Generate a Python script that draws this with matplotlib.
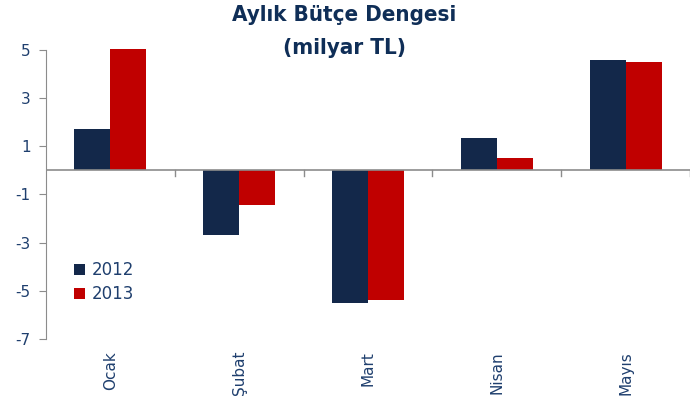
import matplotlib.pyplot as plt
import numpy as np

months = ["Ocak", "Şubat", "Mart", "Nisan", "Mayıs"]
vals_2012 = [1.7, -2.7, -5.5, 1.35, 4.6]
vals_2013 = [5.05, -1.45, -5.4, 0.5, 4.5]
yticks = [-7, -5, -3, -1, 1, 3, 5]

NAVY = "#13284a"
RED = "#c00000"
TEXT = "#1f3f6e"
AXIS = "#8c8c8c"

plt.rcParams["axes.unicode_minus"] = False

fig = plt.figure(figsize=(6.93, 4.03), dpi=100)
ax = fig.add_axes([0.066, 0.159, 0.930, 0.717])

x = np.arange(len(months))
w = 0.28
ax.bar(x - w / 2, vals_2012, w, color=NAVY, label="2012", clip_on=False)
ax.bar(x + w / 2, vals_2013, w, color=RED, label="2013", clip_on=False)

ax.set_xlim(-0.5, len(months) - 0.5)
ax.set_ylim(-7, 5)
ax.set_yticks(yticks)
ax.tick_params(axis="y", colors=AXIS, labelcolor=TEXT, labelsize=11,
               length=5, direction="out", pad=6)

# x axis drawn at zero with boundary ticks
for s in ["top", "right", "bottom"]:
    ax.spines[s].set_visible(False)
ax.spines["left"].set_color(AXIS)
ax.axhline(0, color=AXIS, lw=1.2, zorder=3)
for b in np.arange(0.5, len(months), 1.0):
    ax.plot([b, b], [0, -0.25], color=AXIS, lw=1.0, zorder=3)
ax.set_xticks([])

for i, m in enumerate(months):
    ax.text(i, -7.5, m, rotation=90, ha="center", va="top",
            color=TEXT, fontsize=11)

title_kw = dict(ha="center", va="center", fontsize=16, fontweight="bold",
                color="#0f2e57", family="DejaVu Sans", fontstretch="condensed")
fig.text(0.497, 0.962, "Aylık Bütçe Dengesi", **title_kw)
fig.text(0.497, 0.880, "(milyar TL)", **title_kw)

leg = ax.legend(loc="upper left", bbox_to_anchor=(0.02, 0.32), frameon=False,
                fontsize=12, handlelength=0.7, handleheight=0.7,
                handletextpad=0.4, labelspacing=0.35)
for t in leg.get_texts():
    t.set_color(TEXT)

fig.savefig("out.png", dpi=100)
